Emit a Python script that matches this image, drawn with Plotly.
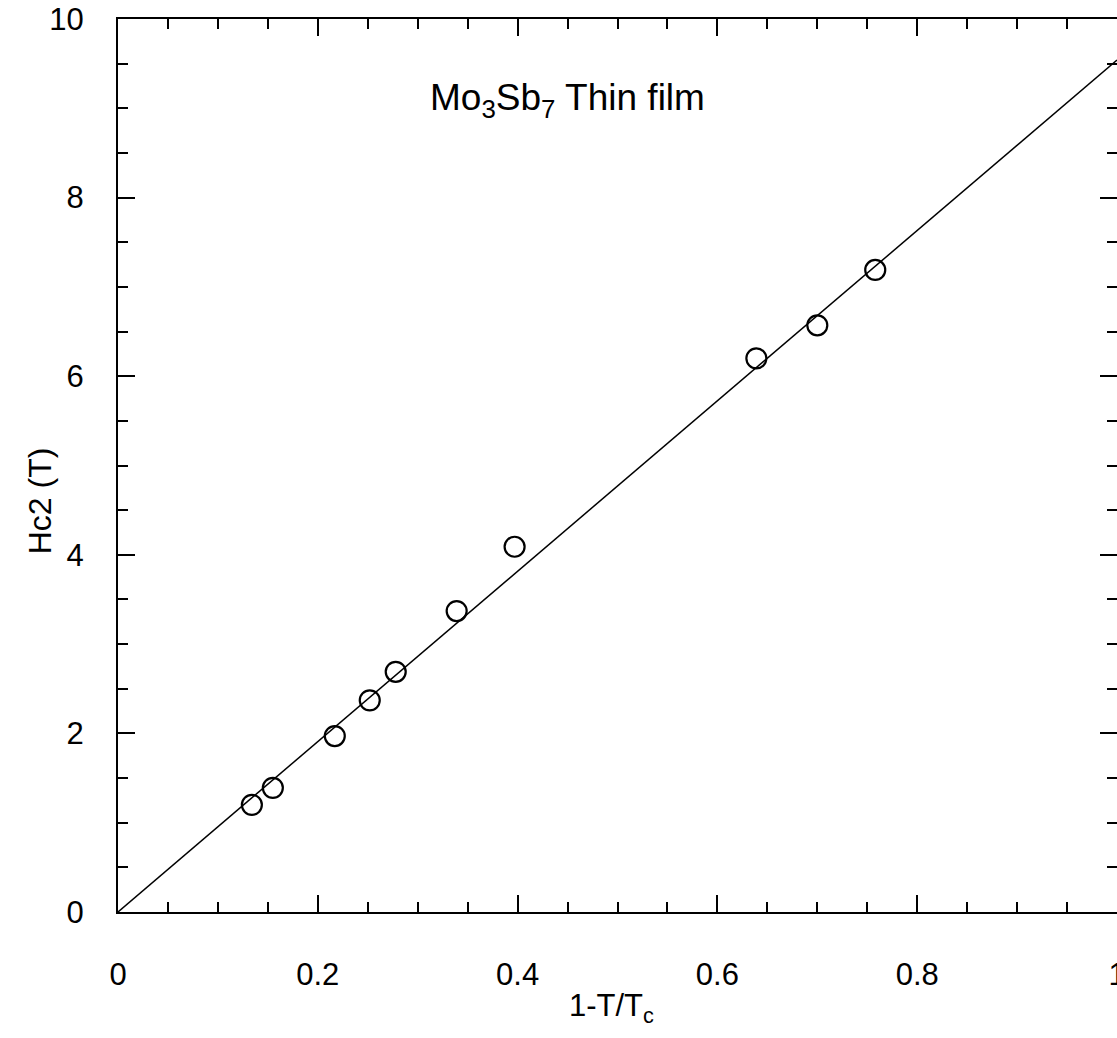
import plotly.graph_objects as go

# Data
x_pts = [0.134, 0.155, 0.217, 0.252, 0.278, 0.339, 0.397, 0.639, 0.700, 0.758]
y_pts = [1.20, 1.39, 1.97, 2.37, 2.69, 3.37, 4.09, 6.20, 6.57, 7.19]
fit_x = [0.0, 1.0]
fit_y = [0.0, 9.54]
x_ticks = [0, 0.2, 0.4, 0.6, 0.8, 1]
x_tick_labels = ["0", "0.2", "0.4", "0.6", "0.8", "1"]
y_ticks = [0, 2, 4, 6, 8, 10]
y_tick_labels = ["0", "2", "4", "6", "8", "10"]

FONT = "Liberation Sans, Arial, sans-serif"

fig = go.Figure()
fig.add_trace(go.Scatter(x=fit_x, y=fit_y, mode="lines",
                         line=dict(color="black", width=1.5), showlegend=False))
fig.add_trace(go.Scatter(x=x_pts, y=y_pts, mode="markers",
                         marker=dict(symbol="circle-open", size=20, color="black",
                                     line=dict(color="black", width=2.2)),
                         showlegend=False))

fig.add_annotation(x=0.45, y=9.09, xref="x", yref="y",
                   text="Mo<sub>3</sub>Sb<sub>7</sub> Thin film", showarrow=False,
                   font=dict(family=FONT, size=37, color="black"))

# axis titles placed as annotations to match reference positions
fig.add_annotation(x=0.449, y=-0.083, xref="paper", yref="paper",
                   xanchor="left", yanchor="top",
                   text="1-T/T<sub>c</sub>", showarrow=False,
                   font=dict(family=FONT, size=31, color="black"))
fig.add_annotation(x=-0.078, y=0.46, xref="paper", yref="paper",
                   xanchor="center", yanchor="middle", textangle=-90,
                   text="Hc2 (T)", showarrow=False,
                   font=dict(family=FONT, size=32, color="black"))

axis_common = dict(showline=True, linecolor="black", linewidth=2, mirror="ticks",
                   ticks="inside", tickcolor="black", tickwidth=2, ticklen=17,
                   showgrid=False, zeroline=False, automargin=False,
                   tickfont=dict(family=FONT, size=31, color="black"))

fig.update_xaxes(range=[0, 1], tickvals=x_ticks, ticktext=x_tick_labels,
                 minor=dict(ticks="inside", ticklen=10, tickwidth=2, tickcolor="black", dtick=0.05),
                 ticklabelstandoff=34, ticklabeloverflow="allow",
                 **axis_common)
fig.update_yaxes(range=[0, 10], tickvals=y_ticks, ticktext=y_tick_labels,
                 minor=dict(ticks="inside", ticklen=10, tickwidth=2, tickcolor="black", dtick=0.5),
                 ticklabelstandoff=26, ticklabeloverflow="allow",
                 **axis_common)

fig.update_layout(width=1117, height=1038,
                  margin=dict(l=118, r=0, t=19, b=126),
                  paper_bgcolor="white", plot_bgcolor="white",
                  showlegend=False)

fig.write_html("out.html")
